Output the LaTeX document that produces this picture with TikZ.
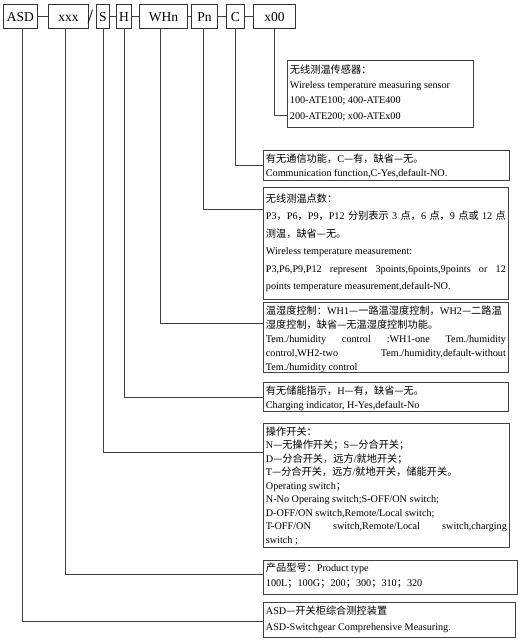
\documentclass[tikz,border=0pt]{standalone}
\usepackage{fontspec}
\setmainfont{Liberation Serif}
\newfontfamily\cjk{Noto Sans CJK SC}
\newcommand\zh[1]{{\cjk #1}}
\newcommand\dtext[5]{\parbox[c][#2pt][t]{#1pt}{\setlength\baselineskip{#4pt}\rule{0pt}{#3pt}#5}}
\begin{document}
\begin{tikzpicture}[x=1pt,y=-1pt,
  top/.style={draw=black!80, line width=0.8pt, minimum height=24pt, inner sep=0pt, anchor=west,
    font=\fontsize{13.5}{16}\selectfont, text height=11pt, text depth=0pt},
  dbox/.style={draw=black!75, line width=0.8pt, anchor=north west, inner xsep=2.5pt, inner ysep=0pt,
    font=\fontsize{10.2}{14}\selectfont},
  conn/.style={draw=black!75, line width=0.8pt}]
\useasboundingbox (0,0) rectangle (519,642);
% top code row
\node[top, minimum width=34pt] (asd) at (3,16) {ASD};
\node[top, minimum width=40pt] (xxx) at (48,16) {xxx};
\node[font=\fontsize{20}{22}\selectfont, inner sep=0pt] (slash) at (90.5,17.5) {/};
\node[top, minimum width=13pt] (s) at (96,16) {S};
\node[top, minimum width=15pt] (h) at (116,16) {H};
\node[top, minimum width=48pt] (whn) at (139,16) {WHn};
\node[top, minimum width=26pt] (pn) at (191,16) {Pn};
\node[top, minimum width=18pt] (c) at (226,16) {C};
\node[top, minimum width=42pt] (x00) at (253,16) {x00};
\draw[conn] (asd) -- (xxx);
\draw[conn] (s) -- (h);
\draw[conn] (h) -- (whn);
\draw[conn] (whn) -- (pn);
\draw[conn] (pn) -- (c);
\draw[conn] (c) -- (x00);
% description boxes
\node[dbox] (x00D) at (287,60) {\dtext{181}{67}{13}{15.2}{\zh{无线测温传感器：}\\Wireless temperature measuring sensor\\100-ATE100; 400-ATE400\\200-ATE200; x00-ATEx00}};
\node[dbox] (cD) at (263,150) {\dtext{241}{30}{12}{14}{\zh{有无通信功能，}C\zh{—有，缺省—无。}\\Communication function,C-Yes,default-NO.}};
\node[dbox] (pnD) at (263,187) {\dtext{240}{112}{15}{17.5}{\zh{无线测温点数：}\\P3\zh{，}P6\zh{，}P9\zh{，}P12 \zh{分别表示} 3 \zh{点，}6 \zh{点，}9 \zh{点或} 12 \zh{点}\linebreak \zh{测温，缺省—无。}\\Wireless temperature measurement:\\P3,P6,P9,P12 represent 3points,6points,9points or 12\linebreak points temperature measurement,default-NO.}};
\node[dbox] (whnD) at (263,302) {\dtext{240}{70}{12}{14}{\zh{温湿度控制：}WH1\zh{—一路温湿度控制，}WH2\zh{—二路温}\\\zh{湿度控制，缺省—无温湿度控制功能。}\\Tem./humidity control :WH1-one Tem./humidity\linebreak control,WH2-two Tem./humidity,default-without\linebreak Tem./humidity control}};
\node[dbox] (hD) at (263,382) {\dtext{240}{29}{12}{14.5}{\zh{有无储能指示，}H\zh{—有，缺省—无。}\\Charging indicator, H-Yes,default-No}};
\node[dbox] (sD) at (263,423) {\dtext{241}{124}{12}{13.5}{\zh{操作开关：}\\N\zh{—无操作开关；}S\zh{—分合开关；}\\D\zh{—分合开关，远方}/\zh{就地开关；}\\T\zh{—分合开关，远方}/\zh{就地开关，储能开关。}\\Operating switch\zh{；}\\N-No Operaing switch;S-OFF/ON switch;\\D-OFF/ON switch,Remote/Local switch;\\T-OFF/ON switch,Remote/Local switch,charging\linebreak switch ;}};
\node[dbox] (prodD) at (263,560) {\dtext{249}{34}{11}{15}{\zh{产品型号：}Product type\\100L\zh{；}100G\zh{；}200\zh{；}300\zh{；}310\zh{；}320}};
\node[dbox] (asdD) at (263,602) {\dtext{247}{35}{12}{16}{ASD\zh{—开关柜综合测控装置}\\ASD-Switchgear Comprehensive Measuring.}};
% connectors
\draw[conn] (x00.south) |- ([yshift=-55pt]x00D.north west);
\draw[conn] (c.south) |- ([yshift=-15pt]cD.north west);
\draw[conn] ([xshift=-1pt]pn.south) |- ([yshift=-22pt]pnD.north west);
\draw[conn] ([xshift=-3pt]whn.south) |- ([yshift=-21pt]whnD.north west);
\draw[conn] (h.south) |- ([yshift=-15pt]hD.north west);
\draw[conn] (s.south) |- ([yshift=-29pt]sD.north west);
\draw[conn] ([xshift=-3pt]xxx.south) |- ([yshift=-14pt]prodD.north west);
\draw[conn] ([xshift=2pt]asd.south) |- ([yshift=-19pt]asdD.north west);
\end{tikzpicture}
\end{document}
